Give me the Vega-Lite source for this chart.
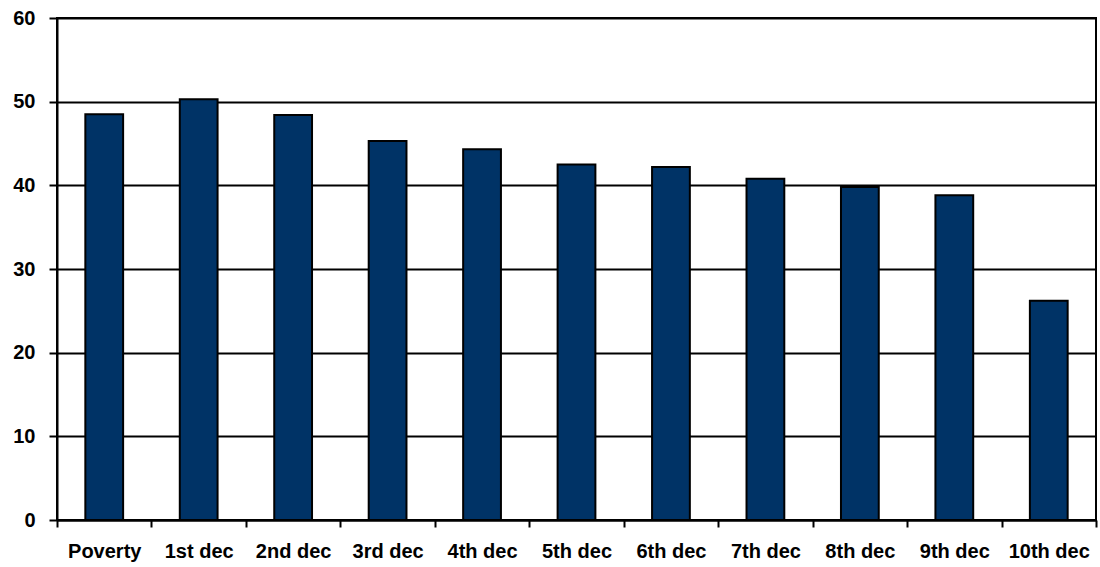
{
  "$schema": "https://vega.github.io/schema/vega-lite/v6.json",
  "autosize": {"type": "none"},
  "padding": {"left": 57, "top": 18, "right": 4, "bottom": 47},
  "width": 1039,
  "height": 502,
  "background": "white",
  "config": {
    "view": {"stroke": "black", "strokeWidth": 2},
    "font": "Liberation Sans"
  },
  "data": {
    "values": [
      {"category": "Poverty", "value": 48.5},
      {"category": "1st dec", "value": 50.3},
      {"category": "2nd dec", "value": 48.4},
      {"category": "3rd dec", "value": 45.3},
      {"category": "4th dec", "value": 44.3},
      {"category": "5th dec", "value": 42.5},
      {"category": "6th dec", "value": 42.2},
      {"category": "7th dec", "value": 40.8},
      {"category": "8th dec", "value": 39.8},
      {"category": "9th dec", "value": 38.8},
      {"category": "10th dec", "value": 26.2}
    ]
  },
  "mark": {"type": "bar", "color": "#003366", "stroke": "black", "strokeWidth": 2, "width": {"band": 0.4}},
  "encoding": {
    "x": {
      "field": "category",
      "type": "nominal",
      "sort": null,
      "scale": {"paddingInner": 0, "paddingOuter": 0},
      "axis": {
        "title": null,
        "labelAngle": 0,
        "labelFont": "Liberation Sans",
        "labelFontSize": 20,
        "labelFontWeight": "bold",
        "labelColor": "black",
        "labelPadding": 14,
        "tickBand": "extent",
        "tickColor": "black",
        "tickSize": 7,
        "tickWidth": 2,
        "domainColor": "black",
        "domainWidth": 2,
        "grid": false
      }
    },
    "y": {
      "field": "value",
      "type": "quantitative",
      "scale": {"domain": [0, 60], "nice": false},
      "axis": {
        "title": null,
        "values": [0, 10, 20, 30, 40, 50, 60],
        "labelFont": "Liberation Sans",
        "labelFontSize": 20,
        "labelFontWeight": "bold",
        "labelColor": "black",
        "labelPadding": 14,
        "tickColor": "black",
        "tickSize": 8,
        "tickWidth": 2,
        "domainColor": "black",
        "domainWidth": 2,
        "grid": true,
        "gridColor": "black",
        "gridWidth": 2,
        "gridOpacity": 1
      }
    }
  }
}
